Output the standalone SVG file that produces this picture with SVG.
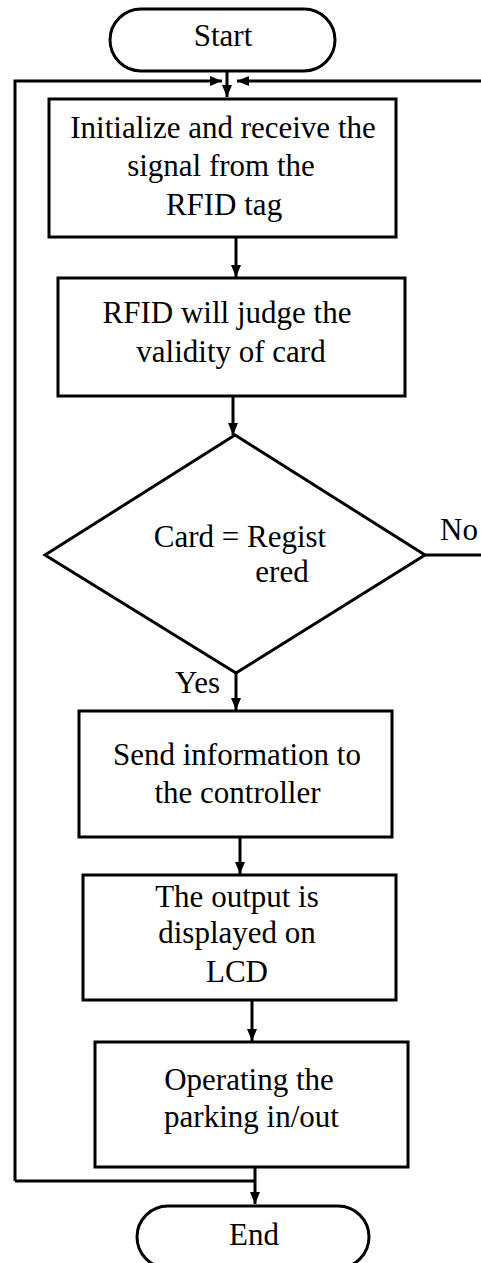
<svg xmlns="http://www.w3.org/2000/svg" width="481" height="1263" viewBox="0 0 481 1263" font-family="Liberation Serif, serif" font-size="31">
<style>
.box{fill:#fff;stroke:#000;stroke-width:3}
.ln{fill:none;stroke:#000;stroke-width:3}
.t{text-anchor:middle}
</style>
<defs>
<marker id="ah" markerUnits="userSpaceOnUse" markerWidth="14" markerHeight="12" viewBox="0 0 14 12" refX="12" refY="6" orient="auto">
<path d="M0,1 L12,6 L0,11 Z" fill="#000"/>
</marker>
</defs>
<g id="connectors">
<line class="ln" x1="227" y1="71" x2="227" y2="97" marker-end="url(#ah)"/>
<polyline class="ln" points="15,1181 15,81 222,81" marker-end="url(#ah)"/>
<polyline class="ln" points="425,555 481,555"/>
<line class="ln" x1="481" y1="81" x2="237" y2="81" marker-end="url(#ah)"/>
<line class="ln" x1="236" y1="238" x2="236" y2="277" marker-end="url(#ah)"/>
<line class="ln" x1="233" y1="396" x2="233" y2="435" marker-end="url(#ah)"/>
<line class="ln" x1="236" y1="673" x2="236" y2="710" marker-end="url(#ah)"/>
<line class="ln" x1="240" y1="837" x2="240" y2="874" marker-end="url(#ah)"/>
<line class="ln" x1="252" y1="1000" x2="252" y2="1041" marker-end="url(#ah)"/>
<line class="ln" x1="255" y1="1167" x2="255" y2="1204" marker-end="url(#ah)"/>
<line class="ln" x1="15" y1="1181" x2="255" y2="1181"/>
<text x="440" y="540" font-family="Liberation Serif, serif" font-size="31">No</text>
<text x="175" y="693" font-family="Liberation Serif, serif" font-size="31">Yes</text>
</g>
<g id="start" font-family="Liberation Serif, serif" font-size="31">
<rect class="box" x="110" y="9" width="225" height="62" rx="31" ry="31"/>
<text class="t" x="223" y="46">Start</text>
</g>
<g id="init" font-family="Liberation Serif, serif" font-size="31">
<rect class="box" x="49" y="99" width="347" height="138"/>
<text class="t" x="223" y="138">Initialize and receive the</text>
<text class="t" x="221" y="176">signal from the</text>
<text class="t" x="224" y="215">RFID tag</text>
</g>
<g id="judge" font-family="Liberation Serif, serif" font-size="31">
<rect class="box" x="58" y="278" width="347" height="118"/>
<text class="t" x="227" y="323">RFID will judge the</text>
<text class="t" x="231" y="362">validity of card</text>
</g>
<g id="decision" font-family="Liberation Serif, serif" font-size="31">
<polygon class="box" points="235,435 425,555 236,673 45,555"/>
<text class="t" x="240" y="547">Card = Regist</text>
<text class="t" x="282" y="582">ered</text>
</g>
<g id="send" font-family="Liberation Serif, serif" font-size="31">
<rect class="box" x="79" y="711" width="313" height="126"/>
<text class="t" x="237" y="765">Send information to</text>
<text class="t" x="237.5" y="803">the controller</text>
</g>
<g id="output" font-family="Liberation Serif, serif" font-size="31">
<rect class="box" x="83" y="875" width="313" height="125"/>
<text class="t" x="237" y="907">The output is</text>
<text class="t" x="237" y="943">displayed on</text>
<text class="t" x="237" y="982">LCD</text>
</g>
<g id="operate" font-family="Liberation Serif, serif" font-size="31">
<rect class="box" x="95" y="1042" width="313" height="125"/>
<text class="t" x="249" y="1090">Operating the</text>
<text class="t" x="251.5" y="1127">parking in/out</text>
</g>
<g id="end" font-family="Liberation Serif, serif" font-size="31">
<rect class="box" x="137" y="1206" width="232" height="62" rx="31" ry="31"/>
<text class="t" x="254" y="1245">End</text>
</g>
</svg>
